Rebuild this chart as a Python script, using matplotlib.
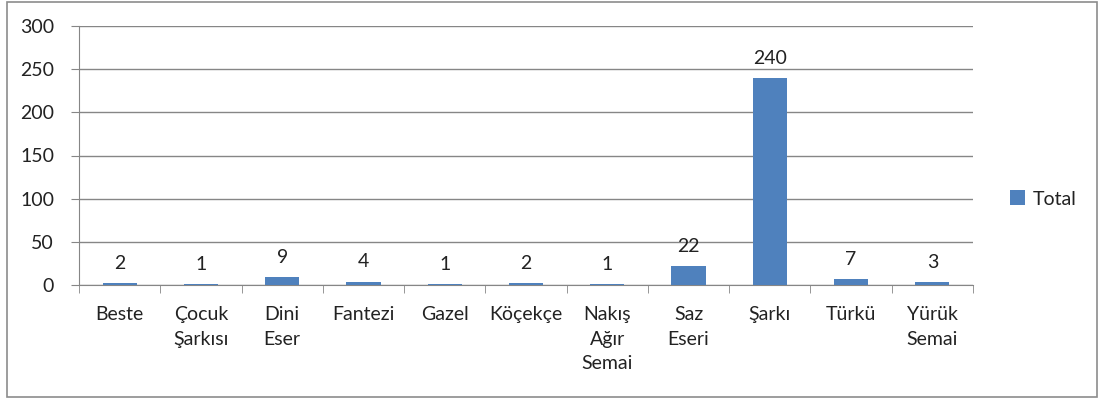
import matplotlib.pyplot as plt
import numpy as np
from matplotlib.patches import Rectangle

plt.rcParams['font.family'] = ['Lato', 'DejaVu Sans']

categories = ["Beste", "Çocuk\nŞarkısı", "Dini\nEser", "Fantezi", "Gazel", "Köçekçe",
              "Nakış\nAğır\nSemai", "Saz\nEseri", "Şarkı", "Türkü", "Yürük\nSemai"]
totals = [2, 1, 9, 4, 1, 2, 1, 22, 240, 7, 3]
y_ticks = [0, 50, 100, 150, 200, 250, 300]

bar_color = "#4F81BD"
grid_color = "#868686"
text_color = "#222222"

fig = plt.figure(figsize=(11.01, 4.05), dpi=100)
fig.patches.append(Rectangle((7 / 1101, 8 / 405), 1090 / 1101, 395 / 405, transform=fig.transFigure,
                             fill=False, edgecolor="#8c8c8c", linewidth=1.2))
ax = fig.add_axes([79 / 1101, 1 - 285 / 405, 894 / 1101, 259 / 405])

x = np.arange(len(categories))
bars = ax.bar(x, totals, width=0.42, color=bar_color, label="Total", zorder=3)
for xi, v in zip(x, totals):
    ax.annotate(str(v), (xi, v), xytext=(0, 8), textcoords="offset points",
                ha="center", va="bottom", fontsize=14, color=text_color)

ax.set_xlim(-0.5, len(categories) - 0.5)
ax.set_ylim(0, 300)
ax.set_yticks(y_ticks)
ax.yaxis.grid(True, color=grid_color, linewidth=1, zorder=0)

ax.set_xticks(x)
ax.set_xticklabels(categories, linespacing=1.55)
ax.set_xticks(np.arange(len(categories) + 1) - 0.5, minor=True)
ax.tick_params(axis="x", which="major", length=0, pad=15, labelsize=14, labelcolor=text_color)
ax.tick_params(axis="x", which="minor", length=6, color=grid_color, direction="out")
ax.tick_params(axis="y", length=6, color=grid_color, labelsize=14, labelcolor=text_color, pad=12)

for side in ["top", "right"]:
    ax.spines[side].set_visible(False)
for side in ["left", "bottom"]:
    ax.spines[side].set_color(grid_color)

fig.legend(handles=[bars], labels=["Total"], loc="center left",
           bbox_to_anchor=(992 / 1101, 1 - 199 / 405), frameon=False, fontsize=14,
           handlelength=0.8, handleheight=0.8, handletextpad=0.4, labelcolor=text_color)

fig.savefig("out.png", dpi=100)
